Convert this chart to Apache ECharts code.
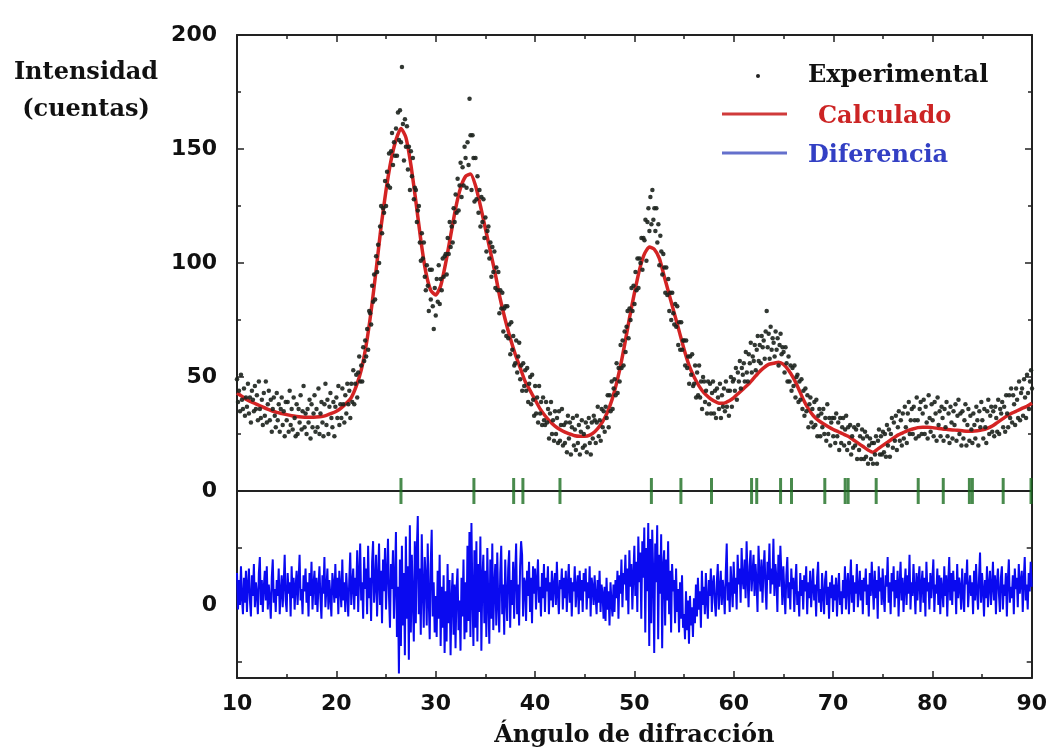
<!DOCTYPE html>
<html>
<head>
<meta charset="utf-8">
<title>Difracción</title>
<script src="https://cdn.jsdelivr.net/npm/echarts@6/dist/echarts.min.js"></script>
<style>
    html, body {margin: 0; padding: 0; background: #fff;}
    #main {width: 1050px; height: 754px;}
</style>
</head>
<body>
<div id="main"></div>
<script>
// 2θ scan: start / step of each data array
var scanStart = 10;
var expStep = 0.1;
var calcStep = 0.5;

// experimental counts, 10.0 .. 90.0 every 0.1
var experimental = [
    49,39,44,35,51,40,36,45,33,41,
    37,47,34,41,30,44,40,35,46,36,
    42,31,48,36,32,40,29,43,33,48,
    30,38,44,31,40,26,36,41,33,28,
    43,31,38,26,36,41,29,35,24,39,
    31,39,26,44,29,36,27,41,32,24,
    38,25,36,30,42,27,35,46,28,34,
    25,36,30,40,23,38,28,34,42,26,
    36,28,45,25,34,39,30,24,38,47,
    29,40,25,37,43,32,28,39,24,37,
    41,32,46,29,38,32,45,38,30,42,
    34,47,38,44,32,47,39,53,38,47,
    51,41,52,59,48,55,48,63,57,66,
    59,71,62,79,78,73,90,83,95,84,
    103,96,108,100,116,125,113,124,122,136,
    125,140,134,148,133,149,157,143,153,147,
    159,147,166,154,167,153,186,161,145,163,
    151,160,141,151,132,149,138,146,128,133,
    132,118,123,125,109,101,113,102,109,94,
    88,99,90,79,97,84,97,81,71,89,
    77,93,83,99,82,93,88,102,94,103,
    104,95,111,104,118,107,116,109,124,118,
    130,122,137,123,134,144,129,142,134,151,
    146,133,153,143,172,156,132,156,146,127,
    146,128,138,122,132,116,129,118,128,111,
    120,105,114,116,102,109,94,107,96,105,
    89,98,88,96,78,88,80,87,70,80,
    81,68,81,67,73,60,74,62,68,55,
    56,66,52,59,65,49,55,44,56,46,
    53,44,54,39,47,50,38,51,40,33,
    46,34,41,30,46,34,39,29,41,31,
    29,39,30,36,23,34,39,25,31,22,
    35,25,32,21,35,22,29,36,20,29,
    21,30,17,33,23,30,16,28,32,20,
    27,18,33,21,29,16,26,31,19,25,
    20,30,17,28,32,21,16,30,23,33,
    31,21,30,37,24,31,22,36,28,35,
    26,37,32,42,28,42,35,48,36,45,
    49,42,56,43,54,48,64,54,66,55,
    70,61,72,79,67,80,75,89,79,90,
    82,96,88,102,89,102,100,111,97,111,
    110,119,101,118,124,114,129,117,132,119,
    124,114,124,109,117,99,112,105,95,104,
    98,87,98,86,93,79,87,75,87,78,
    73,82,72,81,64,74,62,74,62,66,
    66,55,66,54,59,47,59,51,60,46,
    47,55,41,52,42,55,41,48,36,50,
    48,39,44,34,48,38,47,34,43,48,
    34,44,32,45,41,36,47,32,42,37,
    45,35,48,37,44,33,44,50,37,48,
    49,44,54,40,52,48,57,45,54,51,
    56,48,61,52,48,60,56,65,52,59,
    57,64,53,62,68,57,64,56,68,63,
    66,58,70,79,63,69,58,72,62,67,
    65,59,70,62,67,55,64,69,60,63,
    61,52,63,56,48,59,48,55,44,54,
    46,55,41,50,51,39,48,40,49,36,
    44,33,45,35,42,28,38,41,30,36,
    28,39,29,40,24,33,36,24,34,28,
    36,25,32,22,38,25,32,20,30,32,
    24,32,21,34,24,30,18,32,21,28,
    32,20,27,33,18,28,21,29,16,24,
    19,28,20,27,14,29,18,24,14,27,
    23,14,26,15,24,12,20,23,14,21,
    12,21,16,24,12,22,27,16,24,16,
    26,17,25,15,29,20,27,15,25,32,
    19,30,22,33,18,28,35,22,31,20,
    34,23,37,28,21,34,39,25,31,36,
    25,37,31,23,41,31,24,36,39,25,
    34,40,25,37,30,23,42,32,26,38,
    31,24,39,34,22,41,29,35,24,37,
    32,22,36,28,39,24,34,21,37,30,
    23,35,29,38,22,33,40,25,34,20,
    35,23,31,38,20,29,36,22,33,27,
    21,34,29,23,37,31,20,35,28,39,
    31,23,36,28,21,35,40,25,33,37,
    26,35,24,37,32,26,40,25,36,34,
    39,28,37,26,42,34,28,42,32,45,
    30,42,38,29,45,40,32,48,31,43,
    45,33,49,41,32,51,43,36,48,53,
    45
];

// calculated profile, 10.0 .. 90.0 every 0.5
var calculated = [
    43,41.5,40,39,38,37,36,35.2,34.5,34,
    33.5,33,32.7,32.5,32.4,32.4,32.5,32.7,33.2,34,
    35,36.5,38.5,41,46,53,64,79,97,116,
    132,145,154,159,155,143,127,110,96,88,
    86,90,100,112,124,133,138,139,134,125,
    115,105,95,84,75,67,60,54,48,44,
    40,36,33,30.5,28.5,27,25.8,25,24.2,24,
    24,24.5,26,28.5,32,37,44,53,64,76,
    87,97,104,107,106,102,94,86,78,70,
    62,55,50,46,43,41,39.5,38.5,38.5,39.5,
    41,43,45,47,49.5,52,54,55.5,56,56.5,
    55.5,53,49.5,45,40,36,33,31,29.5,28.2,
    27,26,25,24,22.5,21,19.5,18,17,18.5,
    20,21.5,23,24.5,25.5,26.5,27.2,27.8,28,28,
    27.8,27.5,27.2,27,26.8,26.6,26.4,26.2,26.2,26.4,
    26.8,27.5,28.5,30,31.5,33,34.2,35.2,36.2,37.2,
    38.5
];

// difference (exp - calc), 10.0 .. 90.0 every 0.1
var difference = [
    14,-2,11,0,17,3,-4,12,1,15,
    -3,9,16,2,-5,13,4,18,-1,10,
    5,-4,14,21,0,11,-3,8,15,2,
    17,-2,9,3,-6,12,20,1,7,-3,
    11,4,16,-4,6,13,-1,9,22,2,
    -3,14,5,10,-5,17,3,12,-2,8,
    15,0,11,22,2,7,-4,13,6,16,
    1,10,-5,14,4,19,-2,9,15,0,
    12,-3,8,17,3,-6,13,5,21,-1,
    7,16,-2,11,4,-5,14,9,1,18,
    3,12,-4,15,8,-1,20,2,10,-3,
    14,5,-5,11,23,0,9,16,-2,12,
    4,24,-3,13,27,2,10,-6,21,7,
    16,-4,26,3,12,-7,19,28,1,9,
    22,-5,11,27,0,15,-8,20,6,25,
    -2,13,29,4,-10,18,7,24,-6,11,
    32,-14,8,-30,20,-18,26,-9,14,-22,
    30,-6,17,-24,35,-12,22,2,-16,28,
    -8,24,39,-4,16,-13,31,7,-10,21,
    12,-9,27,3,-15,18,33,-5,10,-12,
    4,-14,15,-6,22,-18,8,-10,13,-21,
    6,-16,18,-8,11,-22,3,14,-13,9,
    -19,7,16,-11,2,-20,12,-5,20,-15,
    10,-12,26,-7,32,-14,36,4,-18,24,
    -10,28,-16,18,-3,30,-20,12,22,-8,
    15,-14,25,2,-17,20,-6,27,-11,8,
    18,-9,23,1,-12,14,26,-4,9,-13,
    20,3,-7,16,24,-10,11,0,19,-6,
    13,27,-4,9,-9,17,28,22,-5,12,
    10,-7,15,4,19,-3,12,-8,17,5,
    16,-2,11,20,1,8,-5,14,3,18,
    -3,12,6,17,-4,10,2,15,-1,9,
    14,0,19,5,-4,11,7,16,-2,12,
    3,15,-3,9,18,1,12,-5,10,6,
    17,-1,8,13,-4,15,2,11,-3,14,
    6,16,-2,10,3,17,-5,12,8,0,
    13,4,-4,11,1,15,-3,9,5,-6,
    8,-7,12,-2,6,-9,10,1,-5,9,
    -3,11,3,15,-6,13,5,20,-1,14,
    9,22,2,16,-4,24,8,18,-2,13,
    26,4,19,-3,30,10,23,-6,28,12,
    34,-12,25,6,36,-18,29,-8,33,14,
    -21,27,10,35,-15,22,5,31,-19,17,
    24,-9,20,2,28,-4,15,-12,18,6,
    11,-8,16,-3,7,-12,10,-6,13,-10,
    -4,-15,6,-11,2,-17,4,-9,-1,-14,
    3,-8,9,-5,12,-2,6,-10,15,0,
    8,-4,14,2,-6,11,4,16,-3,9,
    13,1,-5,10,18,-2,7,15,0,11,
    6,-4,14,27,2,10,-3,17,8,-1,
    19,5,12,-2,22,9,16,1,25,11,
    7,20,3,28,12,-1,17,24,6,14,
    22,4,18,10,-3,26,13,6,20,1,
    15,24,8,-2,19,11,27,5,16,9,
    29,4,18,12,-3,22,8,26,14,0,
    17,6,-4,13,21,3,10,-2,16,7,
    12,-3,9,18,0,6,-5,14,4,11,
    -2,13,6,17,-4,10,3,15,-1,8,
    16,2,9,-5,12,19,1,7,-3,14,
    5,-4,11,15,0,8,-6,10,3,13,
    -3,9,2,12,-5,7,14,0,6,-4,
    11,3,17,-2,9,14,-4,8,20,1,
    13,-3,10,5,18,-1,7,15,2,11,
    -4,12,6,16,0,9,-5,14,4,19,
    8,-2,15,3,11,-6,17,6,12,0,
    16,4,-3,13,8,21,1,10,-4,14,
    6,17,-1,11,3,15,-5,9,19,2,
    12,-3,8,16,0,13,5,22,-2,10,
    4,18,7,-4,14,2,11,17,-3,9,
    15,1,12,-5,19,6,10,-2,14,3,
    11,20,-3,9,5,16,0,13,-4,12,
    7,-1,17,4,13,-5,10,21,2,14,
    0,15,6,11,-4,18,3,12,8,-2,
    16,5,-3,14,9,20,-1,7,13,4,
    10,-4,15,2,18,6,-2,12,23,1,
    14,7,-5,11,3,17,-1,9,15,0,
    8,19,2,13,-4,10,16,5,-3,12,
    17,-2,9,4,14,-5,11,20,1,8,
    3,13,-4,16,7,12,-1,18,5,10,
    15,-3,11,21,2,9,-2,14,6,19,
    8
];

// Bragg reflection positions (2θ)
var braggPositions = [26.5, 33.84, 37.84, 38.77, 42.5, 51.7, 54.67, 57.75, 61.78, 62.3,
    64.7, 65.8, 69.15, 71.2, 71.5, 74.32, 78.55, 81.07, 83.7, 84.0, 87.1, 89.9];

// y tick labels
var intensityTicks = [0, 50, 100, 150, 200];
var diffLabelTicks = [0];
var diffMarkTicks = [-25, 25];

/**
 * 按起点和步长把数组变成 [2θ, y] 点
 */
function toPoints(values, start, step) {
    var pts = [];
    for (var i = 0; i < values.length; i++) {
        pts.push([+(start + i * step).toFixed(2), values[i]]);
    }
    return pts;
}

var frameLine = {lineStyle: {color: '#222', width: 2}, onZero: false};
var tickStyle = {color: '#222', width: 1.5};
var numFont = {fontFamily: 'DejaVu Sans', fontWeight: 'bold', fontSize: 22, color: '#111'};
var serifFont = 'bold 24px "DejaVu Serif"';

var option = {
    animation: false,
    backgroundColor: '#fff',
    grid: [
        {left: 237, right: 18, top: 35, height: 456},
        {left: 237, right: 18, top: 491, height: 187}
    ],
    xAxis: [
        {   // top frame
            gridIndex: 0, type: 'value', position: 'top', min: 10, max: 90, interval: 10,
            axisLine: frameLine,
            axisTick: {inside: true, length: 7, lineStyle: tickStyle},
            minorTick: {show: true, splitNumber: 2, length: 4, lineStyle: tickStyle},
            axisLabel: {show: false}, splitLine: {show: false}
        },
        {   // zero line between panels
            gridIndex: 0, type: 'value', position: 'bottom', min: 10, max: 90, interval: 10,
            axisLine: frameLine, axisTick: {show: false}, axisLabel: {show: false}, splitLine: {show: false}
        },
        {   // bottom axis with labels
            gridIndex: 1, type: 'value', position: 'bottom', min: 10, max: 90, interval: 10,
            axisLine: frameLine,
            axisTick: {inside: true, length: 7, lineStyle: tickStyle},
            minorTick: {show: true, splitNumber: 2, length: 4, lineStyle: tickStyle},
            axisLabel: Object.assign({margin: 15}, numFont),
            splitLine: {show: false},
            name: 'Ángulo de difracción',
            nameLocation: 'middle',
            nameGap: 46,
            nameTextStyle: {fontFamily: 'DejaVu Serif', fontWeight: 'bold', fontSize: 24, color: '#111'}
        }
    ],
    yAxis: [
        {
            gridIndex: 0, type: 'value', position: 'left', min: 0, max: 200, interval: 50,
            axisLine: frameLine,
            axisTick: {inside: true, length: 7, lineStyle: tickStyle},
            minorTick: {show: true, splitNumber: 2, length: 4, lineStyle: tickStyle},
            axisLabel: Object.assign({margin: 20, customValues: intensityTicks}, numFont),
            splitLine: {show: false}
        },
        {
            gridIndex: 0, type: 'value', position: 'right', min: 0, max: 200, interval: 50,
            axisLine: frameLine,
            axisTick: {inside: true, length: 7, lineStyle: tickStyle},
            minorTick: {show: true, splitNumber: 2, length: 4, lineStyle: tickStyle},
            axisLabel: {show: false}, splitLine: {show: false}
        },
        {
            gridIndex: 1, type: 'value', position: 'left', min: -32, max: 50,
            axisLine: frameLine,
            axisTick: {inside: true, length: 5, customValues: diffMarkTicks, lineStyle: tickStyle},
            axisLabel: Object.assign({margin: 20, customValues: diffLabelTicks}, numFont),
            splitLine: {show: false}
        },
        {
            gridIndex: 1, type: 'value', position: 'right', min: -32, max: 50,
            axisLine: frameLine,
            axisTick: {inside: true, length: 5, customValues: diffMarkTicks, lineStyle: tickStyle},
            axisLabel: {show: false}, splitLine: {show: false}
        }
    ],
    series: [
        {
            name: 'Calculado', type: 'line', xAxisIndex: 1, yAxisIndex: 0,
            data: toPoints(calculated, scanStart, calcStep),
            smooth: 0.2, showSymbol: false, z: 2,
            lineStyle: {color: '#d42424', width: 3.5}
        },
        {
            name: 'Experimental', type: 'scatter', xAxisIndex: 1, yAxisIndex: 0,
            data: toPoints(experimental, scanStart, expStep),
            symbolSize: 4.5, z: 3,
            itemStyle: {color: '#1c221d', opacity: 0.9}
        },
        {
            name: 'Bragg', type: 'scatter', xAxisIndex: 1, yAxisIndex: 0,
            data: braggPositions.map(function (p) { return [p, 0]; }),
            symbol: 'rect', symbolSize: [3, 26], z: 4,
            itemStyle: {color: '#1b6e20'}
        },
        {
            name: 'Diferencia', type: 'line', xAxisIndex: 2, yAxisIndex: 2,
            data: toPoints(difference, scanStart, expStep),
            showSymbol: false, z: 2,
            lineStyle: {color: '#0a0af0', width: 2}
        }
    ],
    graphic: [
        {type: 'text', x: 86, y: 73, style: {text: 'Intensidad', font: serifFont, fill: '#111', align: 'center', verticalAlign: 'middle'}},
        {type: 'text', x: 86, y: 110, style: {text: '(cuentas)', font: serifFont, fill: '#111', align: 'center', verticalAlign: 'middle'}},
        // legend
        {type: 'circle', shape: {cx: 758, cy: 76, r: 2}, style: {fill: '#222'}},
        {type: 'text', x: 808, y: 76, style: {text: 'Experimental', font: serifFont, fill: '#111', verticalAlign: 'middle'}},
        {type: 'line', shape: {x1: 722, y1: 114, x2: 787, y2: 114}, style: {stroke: '#d03a3a', lineWidth: 3}},
        {type: 'text', x: 818, y: 117, style: {text: 'Calculado', font: serifFont, fill: '#cc2424', verticalAlign: 'middle'}},
        {type: 'line', shape: {x1: 722, y1: 153, x2: 787, y2: 153}, style: {stroke: '#6470cc', lineWidth: 3}},
        {type: 'text', x: 808, y: 156, style: {text: 'Diferencia', font: serifFont, fill: '#3340c4', verticalAlign: 'middle'}}
    ]
};

var myChart = echarts.init(document.getElementById('main'));
myChart.setOption(option);
</script>
</body>
</html>
